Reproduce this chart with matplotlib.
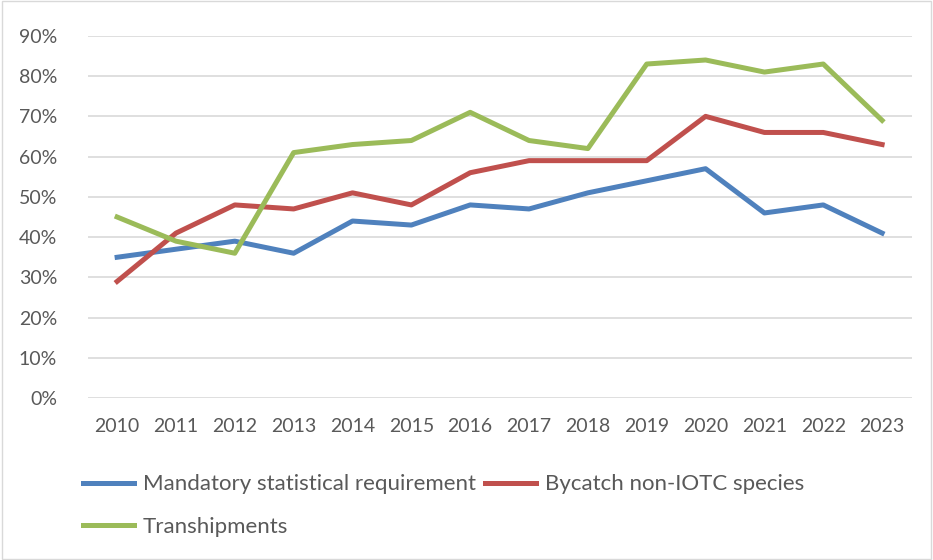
import matplotlib.pyplot as plt
from matplotlib import patches
from matplotlib.ticker import PercentFormatter

years = [str(y) for y in range(2010, 2024)]
mandatory = [35, 37, 39, 36, 44, 43, 48, 47, 51, 54, 57, 46, 48, 41]
bycatch = [29, 41, 48, 47, 51, 48, 56, 59, 59, 59, 70, 66, 66, 63]
tranship = [45, 39, 36, 61, 63, 64, 71, 64, 62, 83, 84, 81, 83, 69]

plt.rcParams['font.family'] = ['Lato', 'DejaVu Sans']
text_col = '#595959'

fig = plt.figure(figsize=(9.33, 5.6), dpi=100)
ax = fig.add_axes([0.094, 0.289, 0.883, 0.647])

x = range(len(years))
l1, = ax.plot(x, mandatory, color='#4F81BD', lw=3.6, label='Mandatory statistical requirement')
l2, = ax.plot(x, bycatch, color='#C0504D', lw=3.6, label='Bycatch non-IOTC species')
l3, = ax.plot(x, tranship, color='#9BBB59', lw=3.6, label='Transhipments')

ax.set_xlim(-0.5, len(years) - 0.5)
ax.set_ylim(0, 90)
ax.set_yticks(range(0, 91, 10))
ax.yaxis.set_major_formatter(PercentFormatter(decimals=0))
ax.set_xticks(list(x))
ax.set_xticklabels(years)
ax.grid(axis='y', color='#D9D9D9', lw=1.2)
ax.set_axisbelow(True)
for s in ax.spines.values():
    s.set_visible(False)
ax.tick_params(length=0, labelsize=14, colors=text_col)
ax.tick_params(axis='x', pad=14)
ax.tick_params(axis='y', pad=22)

# column-major filling: put Transhipments under Mandatory
fig.legend([l1, l3, l2], [l1.get_label(), l3.get_label(), l2.get_label()],
           loc='lower left', bbox_to_anchor=(0.077, 0.022), ncol=2, frameon=False,
           fontsize=16, handlelength=2.3, columnspacing=0.4, handletextpad=0.4,
           labelspacing=1.0, labelcolor=text_col, borderpad=0)

# light frame around the whole chart
fig.patches.append(patches.Rectangle((0.002, 0.002), 0.996, 0.996, transform=fig.transFigure,
                                     fill=False, edgecolor='#D9D9D9', lw=1))

plt.savefig('out.png', dpi=100)
